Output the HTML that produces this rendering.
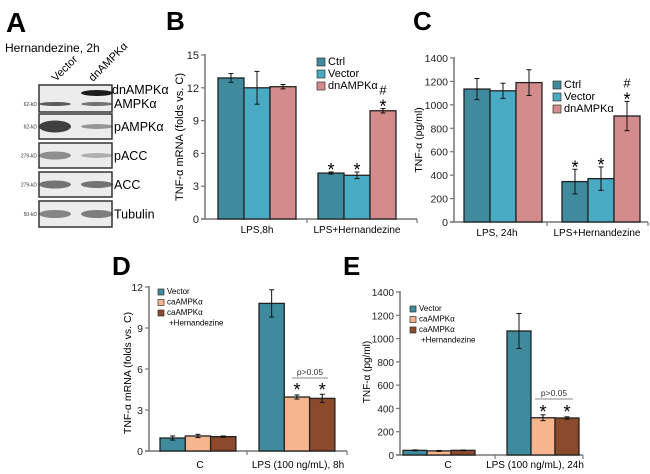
<!DOCTYPE html>
<html><head><meta charset="utf-8"><style>
html,body{margin:0;padding:0;background:#fff;}
svg{display:block;font-family:"Liberation Sans",Arial,sans-serif;}
</style></head><body>
<svg id="fig" width="650" height="474" viewBox="0 0 650 474" xmlns="http://www.w3.org/2000/svg">
<g>
 <text x="6" y="32" font-size="28" font-weight="bold">A</text>
 <text x="5" y="52" font-size="12">Hernandezine, 2h</text>
 <text transform="translate(56,82) rotate(-45)" font-size="11">Vector</text>
 <text transform="translate(93,82) rotate(-45)" font-size="11">dnAMPKα</text>
</g>
<g id="blots"></g>
<g id="pB"></g>
<g id="pC"></g>
<g id="pD"></g>
<g id="pE"></g>
</svg>
<script>
// Panel B data
const bCategories = ["LPS,8h", "LPS+Hernandezine"];
const bSeries = ["Ctrl", "Vector", "dnAMPKα"];
const bValues = [[12.9, 12.0, 12.1], [4.2, 4.0, 9.9]];
const bErrors = [[0.4, 1.5, 0.2], [0.1, 0.3, 0.2]];
const bTicks = [0, 3, 6, 9, 12, 15];
// Panel C data
const cCategories = ["LPS, 24h", "LPS+Hernandezine"];
const cSeries = ["Ctrl", "Vector", "dnAMPKα"];
const cValues = [[1135, 1120, 1190], [345, 370, 905]];
const cErrors = [[90, 65, 110], [105, 100, 125]];
const cTicks = [0, 200, 400, 600, 800, 1000, 1200, 1400];
// Panel D data
const dCategories = ["C", "LPS (100 ng/mL), 8h"];
const dSeries = ["Vector", "caAMPKα", "caAMPKα +Hernandezine"];
const dValues = [[0.95, 1.1, 1.05], [10.8, 3.95, 3.85]];
const dErrors = [[0.15, 0.12, 0.05], [1.0, 0.15, 0.3]];
const dTicks = [0, 3, 6, 9, 12];
// Panel E data
const eCategories = ["C", "LPS (100 ng/mL), 24h"];
const eSeries = ["Vector", "caAMPKα", "caAMPKα +Hernandezine"];
const eValues = [[40, 35, 40], [1065, 320, 318]];
const eErrors = [[4, 4, 3], [150, 25, 10]];
const eTicks = [0, 200, 400, 600, 800, 1000, 1200, 1400];

const NS = "http://www.w3.org/2000/svg";
function mk(parent, tag, attrs, txt) {
  const e = document.createElementNS(NS, tag);
  for (const k in attrs) e.setAttribute(k, attrs[k]);
  if (txt !== undefined) e.textContent = txt;
  parent.appendChild(e);
  return e;
}

// Western blots
const blotLabels = ["AMPKα", "pAMPKα", "pACC", "ACC", "Tubulin"];
const blotKd = ["62-kD", "62-kD", "279-kD", "279-kD", "50-kD"];
const blotY = [85, 114, 143, 172, 201];
const blotH = [27, 25, 25, 25, 26];
const blotBands = [[[0.85,4],[0.7,4]],[[1.0,12],[0.5,5]],[[0.55,8],[0.35,5]],[[0.7,8],[0.7,7]],[[0.6,8],[0.65,8]]];
const blots = document.getElementById("blots");
blotLabels.forEach((lab, i) => {
  const g = mk(blots, "g", {});
  
  
  mk(g, "rect", {x: 39, y: blotY[i], width: 73, height: blotH[i], fill: "#ececec", stroke: "#333", "stroke-width": 1.5});
  const cy = i === 0 ? blotY[i] + 19 : blotY[i] + blotH[i] / 2;
  const b = blotBands[i];
  [[55, b[0]], [97, b[1]]].forEach(([cx, bb]) => {
    mk(g, "ellipse", {cx: cx, cy: cy, rx: 16, ry: bb[1] / 2, fill: "#222", opacity: bb[0] * 0.85});
  });
  if (i === 0) mk(g, "ellipse", {cx: 97, cy: blotY[i] + 8, rx: 16, ry: 3, fill: "#111", opacity: 0.95});
  mk(g, "text", {x: 37, y: cy + 2, "font-size": 5, "text-anchor": "end", fill: "#333"}, blotKd[i]);
  mk(g, "text", {x: 114, y: (i === 0 ? blotY[i] + 23 : cy + 4.5), "font-size": 12.5}, lab);
});
const dnl = mk(blots, "text", {x: 112, y: 94, "font-size": 12.5}, "dnAMPKα");



function panel(id, cfg) {
  const g = document.getElementById(id);
  const {x0, x1, yb, yt, maxV, ticks, cats, series, vals, errs, colors, barX, catTick, catLabelX, labelY, ylabel, ylabX, ylabY, legX, legY, legDy, legFont, tickFont} = cfg;
  const ys = v => yb - (v / maxV) * (yb - yt);
  mk(g, "text", {x: cfg.letterX, y: cfg.letterY, "font-size": 26, "font-weight": "bold"}, cfg.letter);
  const ax = mk(g, "line", {x1: x0, y1: yt - 1, x2: x0, y2: yb, stroke: "#777", "stroke-width": 1.5});
   
  const xa = mk(g, "line", {x1: x0 - 4, y1: yb, x2: x1, y2: yb, stroke: "#777", "stroke-width": 1.5});
   
  mk(g, "line", {x1: catTick, y1: yb, x2: catTick, y2: yb + 4, stroke: "#777", "stroke-width": 1.2});
  mk(g, "line", {x1: x1, y1: yb, x2: x1, y2: yb + 4, stroke: "#777", "stroke-width": 1.2});
  ticks.forEach(t => {
    const y = ys(t);
    mk(g, "line", {x1: x0 - 4, y1: y, x2: x0, y2: y, stroke: "#777", "stroke-width": 1.2});
    const tl = mk(g, "text", {x: x0 - 6, y: y + 4, "font-size": tickFont, "text-anchor": "end", fill: "#222"}, String(t));
     
  });
  const yl = mk(g, "text", {transform: `translate(${ylabX},${ylabY}) rotate(-90)`, "font-size": cfg.ylabFont, "text-anchor": "middle"}, ylabel);
   
  cats.forEach((c, ci) => {
    const cl = mk(g, "text", {x: catLabelX[ci], y: labelY, "font-size": cfg.catFont, "text-anchor": "middle"}, c);
     
    series.forEach((s, si) => {
      const v = vals[ci][si], e = errs[ci][si];
      const bx = barX[ci] + si * cfg.bw;
      const r = mk(g, "rect", {x: bx, y: ys(v), width: cfg.bw, height: yb - ys(v), fill: colors[si], stroke: "#222", "stroke-width": 1.3});
       
      const cx = bx + cfg.bw / 2;
      mk(g, "line", {x1: cx, y1: ys(v + e), x2: cx, y2: ys(v - e), stroke: "#111", "stroke-width": 1});
      mk(g, "line", {x1: cx - 2.5, y1: ys(v + e), x2: cx + 2.5, y2: ys(v + e), stroke: "#111", "stroke-width": 1});
      mk(g, "line", {x1: cx - 2.5, y1: ys(v - e), x2: cx + 2.5, y2: ys(v - e), stroke: "#111", "stroke-width": 1});
      const mark = cfg.marks && cfg.marks[ci] && cfg.marks[ci][si];
      if (mark) {
        const top = Math.min(ys(v + e), cfg.starTop || 9999);
        const st = mk(g, "text", {x: cx, y: top + 4, "font-size": 18, "text-anchor": "middle"}, "*");
         
        if (mark === 2) {
          const h = mk(g, "text", {x: cx, y: top - 14, "font-size": 13, "text-anchor": "middle"}, "#");
           
        }
      }
    });
  });
  series.forEach((s, si) => {
    const ly = legY + si * legDy;
    const lg = mk(g, "g", {});
     
    mk(lg, "rect", {x: legX, y: ly - cfg.sw + 1, width: cfg.sw, height: cfg.sw, fill: colors[si], stroke: "#333", "stroke-width": 0.7});
    const parts = s.split(" ");
    mk(lg, "text", {x: legX + cfg.sw + 3, y: ly, "font-size": legFont}, parts[0]);
    if (parts[1]) mk(lg, "text", {x: legX + cfg.sw + 5, y: ly + legDy, "font-size": legFont}, parts[1]);
  });
  if (cfg.pline) {
    const p = cfg.pline;
    mk(g, "line", {x1: p[0], y1: p[2], x2: p[1], y2: p[2], stroke: "#888", "stroke-width": 1});
    const pt = mk(g, "text", {x: (p[0] + p[1]) / 2, y: p[2] - 3, "font-size": 8.5, "text-anchor": "middle", fill: "#333"}, "p>0.05");
     
  }
}
const colBC = ["#3f8b9d", "#49aac3", "#d48b8b"];
const colDE = ["#3f8b9d", "#f6b58e", "#8c4a2d"];
panel("pB", {letter: "B", letterX: 166, letterY: 30, x0: 205, x1: 417, yb: 219, yt: 55, maxV: 15, ticks: bTicks, cats: bCategories, series: bSeries, vals: bValues, errs: bErrors, colors: colBC, barX: [218, 318], bw: 26, catTick: 307, catLabelX: [257, 357], labelY: 233, catFont: 10, tickFont: 11, ylabel: "TNF-α mRNA (folds vs. C)", ylabX: 183, ylabY: 137, ylabFont: 11, legX: 317, legY: 65, legDy: 12, legFont: 11, sw: 8, marks: [null, [1, 1, 2]]});
panel("pC", {letter: "C", letterX: 413, letterY: 30, x0: 454, x1: 648, yb: 222, yt: 58, maxV: 1400, ticks: cTicks, cats: cCategories, series: cSeries, vals: cValues, errs: cErrors, colors: colBC, barX: [464, 562], bw: 26, catTick: 547, catLabelX: [497, 597], labelY: 236, catFont: 10, tickFont: 10.5, ylabel: "TNF-α (pg/ml)", ylabX: 422, ylabY: 140, ylabFont: 10.5, legX: 553, legY: 88, legDy: 12, legFont: 11, sw: 8, marks: [null, [1, 1, 2]]});
panel("pD", {letter: "D", letterX: 112, letterY: 275, x0: 149, x1: 347, yb: 451, yt: 287, maxV: 12, ticks: dTicks, cats: dCategories, series: dSeries, vals: dValues, errs: dErrors, colors: colDE, barX: [160, 259], bw: 25.3, catTick: 247, catLabelX: [200, 298], labelY: 468, catFont: 10, tickFont: 10.5, ylabel: "TNF-α mRNA (folds vs. C)", ylabX: 131, ylabY: 373, ylabFont: 10.5, legX: 158, legY: 294, legDy: 10.5, legFont: 8, sw: 6, marks: [null, [0, 1, 1]], pline: [292, 328, 378], starTop: 392});
panel("pE", {letter: "E", letterX: 343, letterY: 275, x0: 400, x1: 583, yb: 455, yt: 292, maxV: 1400, ticks: eTicks, cats: eCategories, series: eSeries, vals: eValues, errs: eErrors, colors: colDE, barX: [403, 507], bw: 24, catTick: 495, catLabelX: [448, 535], labelY: 468, catFont: 10, tickFont: 10, ylabel: "TNF-α (pg/ml)", ylabX: 370, ylabY: 372, ylabFont: 10, legX: 410, legY: 311, legDy: 10.5, legFont: 8, sw: 6, marks: [null, [0, 1, 1]], pline: [535, 573, 399], starTop: 414});
</script>
</body></html>
